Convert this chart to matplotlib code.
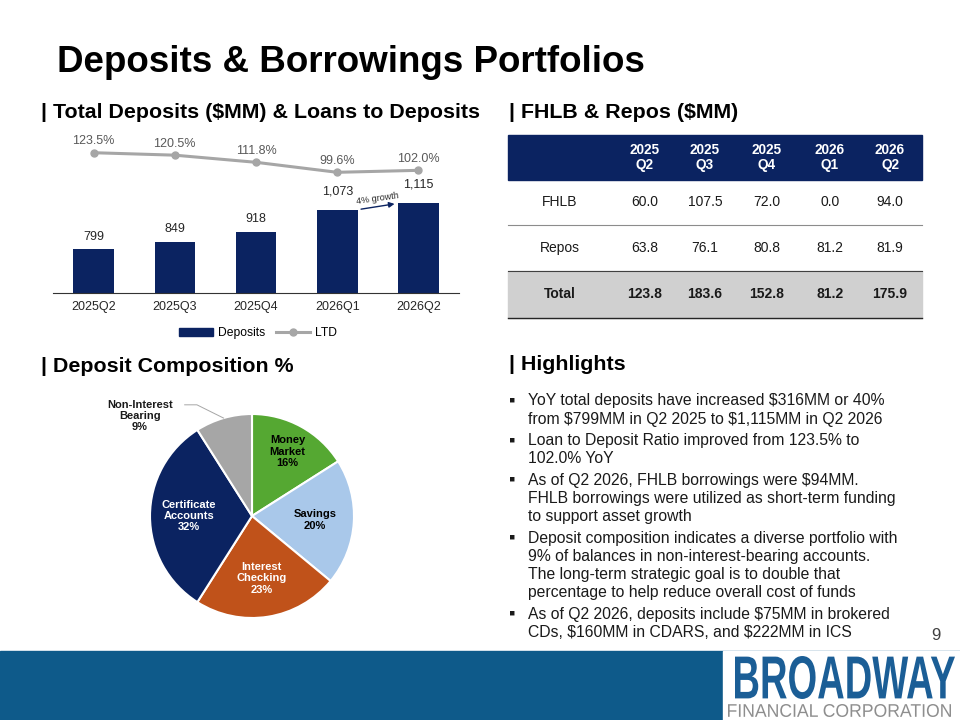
'''
Deposits & Borrowings slide
'''

import matplotlib
matplotlib.use('Agg')
import matplotlib.pyplot as plt
import numpy as np
from matplotlib.patches import Rectangle, PathPatch
from matplotlib.textpath import TextPath
from matplotlib.font_manager import FontProperties
from matplotlib.transforms import Affine2D
from matplotlib.lines import Line2D
from matplotlib.patches import Patch

plt.rcParams['font.family'] = ['Liberation Sans', 'DejaVu Sans']

#data
quarters = ['2025Q2', '2025Q3', '2025Q4', '2026Q1', '2026Q2']
deposits = [799, 849, 918, 1073, 1115]
ltd = [123.5, 120.5, 111.8, 99.6, 102.0]

table_cols = ['2025\nQ2', '2025\nQ3', '2025\nQ4', '2026\nQ1', '2026\nQ2']
fhlb = [60.0, 107.5, 72.0, 0.0, 94.0]
repos = [63.8, 76.1, 80.8, 81.2, 81.9]
totals = [123.8, 183.6, 152.8, 81.2, 175.9]

pie_labels = ['Money\nMarket', 'Savings', 'Interest\nChecking', 'Certificate\nAccounts', 'Non-Interest\nBearing']
pie_pct = [16, 20, 23, 32, 9]

highlights = [
    ['YoY total deposits have increased \\$316MM or 40%',
     'from \\$799MM in Q2 2025 to \\$1,115MM in Q2 2026'],
    ['Loan to Deposit Ratio improved from 123.5% to',
     '102.0% YoY'],
    ['As of Q2 2026, FHLB borrowings were \\$94MM.',
     'FHLB borrowings were utilized as short-term funding',
     'to support asset growth'],
    ['Deposit composition indicates a diverse portfolio with',
     '9% of balances in non-interest-bearing accounts.',
     'The long-term strategic goal is to double that',
     'percentage to help reduce overall cost of funds'],
    ['As of Q2 2026, deposits include \\$75MM in brokered',
     'CDs, \\$160MM in CDARS, and \\$222MM in ICS'],
]
##########

#colors
NAVY = '#0B2361'
GRAY_LINE = '#A6A6A6'
PIE_COLORS = ['#55A832', '#A9C8EA', '#C0521A', NAVY, '#A6A6A6']
PIE_TEXT = ['black', 'black', 'white', 'white', 'black']
BAND = '#0E5A8A'
TXT = '#1A1A1A'
##########

W, H = 960, 720
fig = plt.figure(figsize=(9.6, 7.2), dpi=100)

def box(x0, y0, x1, y1):
    return [x0 / W, 1 - y1 / H, (x1 - x0) / W, (y1 - y0) / H]

#background axes in pixel coords
bg = fig.add_axes([0, 0, 1, 1])
bg.set_xlim(0, W)
bg.set_ylim(H, 0)
bg.axis('off')

bg.text(57, 63, 'Deposits & Borrowings Portfolios', fontsize=26.5, fontweight='bold', va='center')
bg.text(41, 112, '| Total Deposits (\\$MM) & Loans to Deposits', fontsize=15.4, fontweight='bold', va='center')
bg.text(509, 112, '| FHLB & Repos (\\$MM)', fontsize=15.4, fontweight='bold', va='center')
bg.text(41, 367, '| Deposit Composition %', fontsize=15.4, fontweight='bold', va='center')
bg.text(509, 365, '| Highlights', fontsize=15.4, fontweight='bold', va='center')

#bar + line chart
ax = fig.add_axes(box(53, 140, 459, 293))
x = np.arange(len(quarters))
bars = ax.bar(x, deposits, width=0.5, color=NAVY, label='Deposits', zorder=2)
ax.set_xlim(-0.5, len(quarters) - 0.5)
ax.set_ylim(500, 1551)
for s in ['top', 'left', 'right']:
    ax.spines[s].set_visible(False)
ax.spines['bottom'].set_color('#333333')
ax.spines['bottom'].set_linewidth(0.8)
ax.set_yticks([])
ax.set_xticks(x)
ax.set_xticklabels(quarters)
ax.tick_params(axis='x', length=0, labelsize=9, pad=6, colors='#262626')
for i, v in enumerate(deposits):
    off = 9 if i >= 3 else 5
    ax.annotate('{:,}'.format(v), (x[i], v), xytext=(0, off), textcoords='offset points',
                ha='center', va='bottom', fontsize=9, color='#262626')

ax2 = ax.twinx()
ax2.plot(x, ltd, color=GRAY_LINE, lw=2.2, marker='o', ms=5, label='LTD')
ax2.set_ylim(-47.6, 139)
ax2.set_yticks([])
for s in ['top', 'left', 'right', 'bottom']:
    ax2.spines[s].set_visible(False)
for i, v in enumerate(ltd):
    ax2.annotate('{:.1f}%'.format(v), (x[i], v), xytext=(0, 4), textcoords='offset points',
                 ha='center', va='bottom', fontsize=9, color='#595959')

#growth arrow between last two bars
ax.annotate('', xy=(x[4] - 0.26, deposits[4]), xytext=(x[3] + 0.26, deposits[3]),
            arrowprops=dict(arrowstyle='-|>', color=NAVY, lw=1, mutation_scale=8))
ax.annotate('4% growth', ((x[3] + x[4]) / 2, (deposits[3] + deposits[4]) / 2),
            xytext=(0, 6), textcoords='offset points', ha='center', va='center',
            fontsize=6.5, rotation=8, color='#262626')

handles = [Patch(color=NAVY), Line2D([], [], color=GRAY_LINE, lw=2.2, marker='o', ms=5)]
fig.legend(handles, ['Deposits', 'LTD'], loc='center', bbox_to_anchor=(258 / W, 1 - 333 / H),
           ncol=2, frameon=False, fontsize=8.7, handlelength=2.8, columnspacing=0.9, handletextpad=0.4)

#table
col_x = [560, 645, 705, 767, 830, 890]
row_y = [135, 180, 225, 271, 318]
tx0, tx1 = 508, 922
bg.add_patch(Rectangle((tx0, row_y[0]), tx1 - tx0, row_y[1] - row_y[0], color=NAVY))
bg.add_patch(Rectangle((tx0, row_y[3]), tx1 - tx0, row_y[4] - row_y[3], color='#D0D0D0'))
bg.plot([tx0, tx1], [row_y[2], row_y[2]], color='#8C8C8C', lw=0.8)
bg.plot([tx0, tx1], [row_y[3], row_y[3]], color='#404040', lw=0.8)
bg.plot([tx0, tx1], [row_y[4], row_y[4]], color='#262626', lw=1.0)
for j, c in enumerate(table_cols):
    bg.text(col_x[j + 1], (row_y[0] + row_y[1]) / 2, c, ha='center', va='center',
            color='white', fontweight='bold', fontsize=9.8, linespacing=1.1)
rows = [('FHLB', fhlb, 'normal'), ('Repos', repos, 'normal'), ('Total', totals, 'bold')]
for r, (name, vals, wt) in enumerate(rows):
    yc = (row_y[r + 1] + row_y[r + 2]) / 2
    bg.text(col_x[0], yc, name, ha='center', va='center', fontsize=10, fontweight=wt, color=TXT)
    for j, v in enumerate(vals):
        bg.text(col_x[j + 1], yc, '{:.1f}'.format(v), ha='center', va='center',
                fontsize=10, fontweight=wt, color=TXT)

#pie
pax = fig.add_axes(box(150, 414, 354, 618))
wedges, _ = pax.pie(pie_pct, colors=PIE_COLORS, startangle=90, counterclock=False,
                    wedgeprops=dict(edgecolor='white', linewidth=1.5))
pax.set_xlim(-1, 1)
pax.set_ylim(-1, 1)
pax.set_aspect('equal')
for i, w in enumerate(wedges):
    mid = np.deg2rad((w.theta1 + w.theta2) / 2)
    txt = pie_labels[i] + '\n' + '{}%'.format(pie_pct[i])
    if pie_pct[i] < 10:
        ex, ey = np.cos(mid), np.sin(mid)
        pax.plot([ex, -0.54, -0.66], [ey, 1.09, 1.09], color='#A6A6A6', lw=0.7, clip_on=False)
        pax.text(-1.10, 0.98, txt, ha='center', va='center', fontsize=8, fontweight='bold',
                 linespacing=1.15, clip_on=False, color=TXT)
    else:
        r = 0.72 if i == 0 else 0.62
        pax.text(r * np.cos(mid), r * np.sin(mid), txt, ha='center', va='center', fontsize=8,
                 fontweight='bold', color=PIE_TEXT[i], linespacing=1.15)

#highlights
y = 401
for item in highlights:
    bg.text(509, y, '\u25aa', fontsize=13, va='center', ha='left', color=TXT)
    for line in item:
        bg.text(528, y, line, fontsize=11.3, va='center', ha='left', color=TXT)
        y += 18.3
    y += 3

bg.text(936, 636, '9', fontsize=12, ha='center', va='center', color='#404040')

#footer band and logo
bg.add_patch(Rectangle((0, 651), W, H - 651, color=BAND))
bg.add_patch(Rectangle((723, 651), W - 723, H - 651, color='white'))

def fit_text(s, x0, y0, x1, y1, color, family, weight):
    tp = TextPath((0, 0), s, size=1, prop=FontProperties(family=family, weight=weight))
    ext = tp.get_extents()
    sx = (x1 - x0) / ext.width
    sy = (y1 - y0) / ext.height
    tr = Affine2D().translate(-ext.x0, -ext.y0).scale(sx, -sy).translate(x0, y1)
    bg.add_patch(PathPatch(tr.transform_path(tp), color=color, lw=0))

fit_text('BROADWAY', 735, 656, 955, 699, '#1B5E96', ['Liberation Sans Narrow', 'Liberation Sans'], 'bold')
fit_text('FINANCIAL CORPORATION', 728, 704, 951, 717, '#8E8E8E', 'Liberation Sans', 'normal')

fig.savefig('out.png', dpi=100)
